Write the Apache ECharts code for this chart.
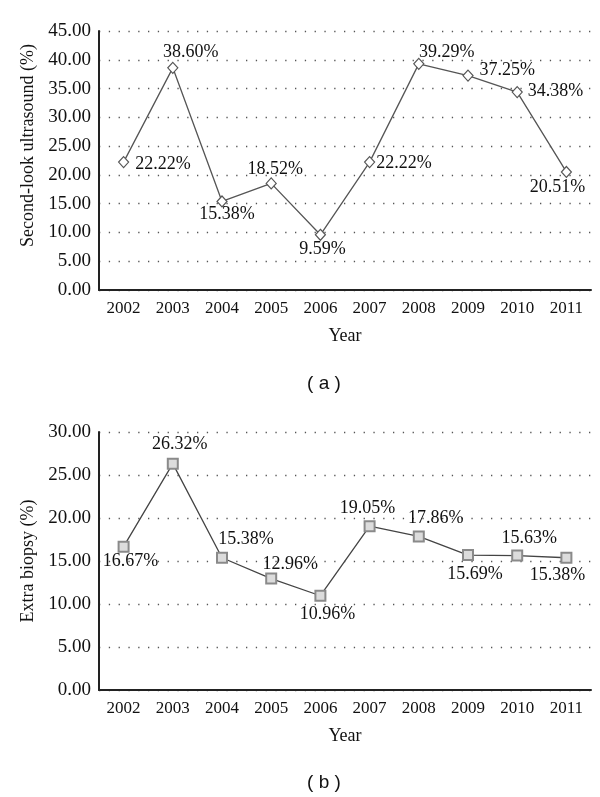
<!DOCTYPE html>
<html>
<head>
<meta charset="utf-8">
<script src="https://cdn.jsdelivr.net/npm/echarts@6/dist/echarts.min.js"></script>
<style>html,body{margin:0;padding:0;background:#fff}#c{width:600px;height:797px}</style>
</head>
<body>
<div id="c"></div>
<script>
const years = ['2002','2003','2004','2005','2006','2007','2008','2009','2010','2011'];
const secondLook = [22.22, 38.60, 15.38, 18.52, 9.59, 22.22, 39.29, 37.25, 34.38, 20.51];
const extraBiopsy = [16.67, 26.32, 15.38, 12.96, 10.96, 19.05, 17.86, 15.69, 15.63, 15.38];
const yTicksA = [0, 45, 5];
const yTicksB = [0, 30, 5];

// label placement (style only)
const labA = [['right',[6,2]],['top',[18,0]],['bottom',[5,-2]],['top',[4,1]],['bottom',[2,-1]],['right',[1,1]],['top',[28,4]],['right',[6,-5]],['right',[5,-1]],['bottom',[-9,0]]];
const labB = [['bottom',[7,0]],['top',[7,-4]],['top',[24,-3]],['top',[19,1]],['bottom',[7,4]],['top',[-2,-3]],['top',[17,-3]],['bottom',[7,4]],['top',[12,-2]],['bottom',[-9,3]]];

const serif = '"Liberation Serif", "DejaVu Serif", serif';

function mkData(vals, labs) {
  return vals.map((v, i) => ({
    value: v,
    label: { position: labs[i][0], offset: labs[i][1] }
  }));
}

function xAx(gi) {
  return {
    type: 'category', gridIndex: gi, data: years, boundaryGap: true,
    name: 'Year', nameLocation: 'middle', nameGap: 37,
    nameTextStyle: { fontFamily: serif, fontSize: 18, color: '#111' },
    axisLine: { lineStyle: { color: '#222', width: 2 } },
    axisTick: { show: false },
    axisLabel: { fontFamily: serif, fontSize: 17, color: '#111', margin: 10 }
  };
}
function yAx(gi, t, name, pad) {
  return {
    type: 'value', gridIndex: gi, min: t[0], max: t[1], interval: t[2],
    name: name, nameLocation: 'middle', nameGap: 60, nameRotate: 90,
    nameTextStyle: { fontFamily: serif, fontSize: 18, color: '#111', padding: pad },
    axisLine: { show: true, lineStyle: { color: '#222', width: 2 } },
    axisTick: { show: false },
    axisLabel: { fontFamily: serif, fontSize: 19, color: '#111', margin: 8, formatter: v => v.toFixed(2) },
    splitLine: { show: true, lineStyle: { color: '#555', width: 1.3, type: [1.3, 8.5] } }
  };
}

const chart = echarts.init(document.getElementById('c'), null, { renderer: 'canvas' });
chart.setOption({
  animation: false,
  backgroundColor: '#fff',
  grid: [
    { left: 99, top: 31, width: 492, height: 259 },
    { left: 99, top: 432, width: 492, height: 258 }
  ],
  xAxis: [xAx(0), xAx(1)],
  yAxis: [yAx(0, yTicksA, 'Second-look ultrasound (%)', [0, 0, 0, 30]), yAx(1, yTicksB, 'Extra biopsy (%)', [0, 0, 0, 0])],
  series: [
    {
      type: 'line', xAxisIndex: 0, yAxisIndex: 0, data: mkData(secondLook, labA),
      symbol: 'diamond', symbolSize: [10, 11],
      lineStyle: { color: '#555', width: 1.3 },
      itemStyle: { color: '#fff', borderColor: '#555', borderWidth: 1.2 },
      label: { show: true, fontFamily: serif, fontSize: 18, color: '#111', distance: 0, formatter: p => p.value.toFixed(2) + '%' }
    },
    {
      type: 'line', xAxisIndex: 1, yAxisIndex: 1, data: mkData(extraBiopsy, labB),
      symbol: 'rect', symbolSize: 10,
      lineStyle: { color: '#444', width: 1.3 },
      itemStyle: { color: '#dcdcdc', borderColor: '#8a8a8a', borderWidth: 2 },
      label: { show: true, fontFamily: serif, fontSize: 18, color: '#111', distance: 0, formatter: p => p.value.toFixed(2) + '%' }
    }
  ],
  graphic: [
    { type: 'text', style: { x: 324, y: 384, text: '( a )', textAlign: 'center', textVerticalAlign: 'middle', font: '19px "Liberation Sans", Arial, sans-serif', fill: '#111' } },
    { type: 'text', style: { x: 324, y: 783, text: '( b )', textAlign: 'center', textVerticalAlign: 'middle', font: '19px "Liberation Sans", Arial, sans-serif', fill: '#111' } }
  ]
});
</script>
</body>
</html>
